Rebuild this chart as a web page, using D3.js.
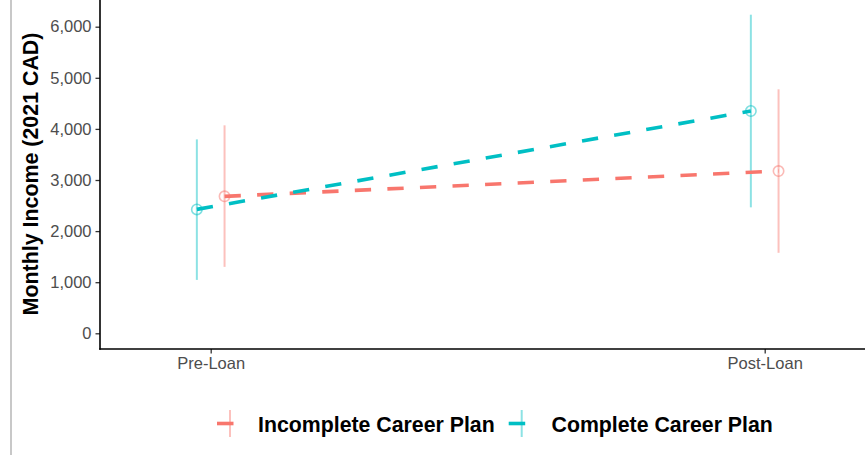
<!DOCTYPE html>
<html>
<head>
<meta charset="utf-8">
<script src="https://cdn.jsdelivr.net/npm/d3@7"></script>
<style>
html,body{margin:0;padding:0;background:#fff;}
svg{display:block;font-family:"Liberation Sans",Arial,sans-serif;}
</style>
</head>
<body>
<svg id="chart" width="865" height="455"></svg>
<script>
// ---- data ----
const periods = ["Pre-Loan", "Post-Loan"];
const groups = ["Incomplete Career Plan", "Complete Career Plan"];
const incompleteMean = [2680, 3175];
const incompleteLow  = [1300, 1575];
const incompleteHigh = [4070, 4775];
const completeMean = [2425, 4350];
const completeLow  = [1045, 2465];
const completeHigh = [3795, 6235];
const yTicks = [0, 1000, 2000, 3000, 4000, 5000, 6000];
const yTitle = "Monthly Income (2021 CAD)";

// ---- layout ----
const colors = {"Incomplete Career Plan": "#F8766D", "Complete Career Plan": "#00BFC4"};
const dodgeFrac = {"Incomplete Career Plan": 0.025, "Complete Career Plan": -0.025};
const svg = d3.select("#chart");
const axisX = 100, axisY = 349;

const x = d3.scalePoint().domain(periods).range([210.7, 764.7]);
const y = d3.scaleLinear().domain([0, 6000]).range([333.3, 26.7]);

const series = [
  {name: groups[0], mean: incompleteMean, low: incompleteLow, high: incompleteHigh},
  {name: groups[1], mean: completeMean, low: completeLow, high: completeHigh}
];
const px = (s, i) => x(periods[i]) + dodgeFrac[s.name] * (x.range()[1] - x.range()[0]);

// page border line
svg.append("line").attr("x1", 11).attr("x2", 11).attr("y1", 0).attr("y2", 455)
  .attr("stroke", "#c8c8c8").attr("stroke-width", 2);

// error bars
series.forEach(s => {
  svg.append("g").selectAll("line").data(periods).join("line")
    .attr("x1", (d, i) => px(s, i)).attr("x2", (d, i) => px(s, i))
    .attr("y1", (d, i) => y(s.low[i])).attr("y2", (d, i) => y(s.high[i]))
    .attr("stroke", colors[s.name]).attr("stroke-opacity", 0.45).attr("stroke-width", 2);
});
// points
series.forEach(s => {
  svg.append("g").selectAll("circle").data(periods).join("circle")
    .attr("cx", (d, i) => px(s, i)).attr("cy", (d, i) => y(s.mean[i]))
    .attr("r", 5.2).attr("fill", "none")
    .attr("stroke", colors[s.name]).attr("stroke-opacity", 0.5).attr("stroke-width", 1.6);
});
// dashed lines
series.forEach(s => {
  const line = d3.line().x((d, i) => px(s, i)).y((d, i) => y(s.mean[i]));
  svg.append("path").datum(periods).attr("d", line)
    .attr("fill", "none").attr("stroke", colors[s.name])
    .attr("stroke-width", 3.6).attr("stroke-dasharray", "16.3,16.3");
});

// axes
const yAxis = d3.axisLeft(y).tickValues(yTicks).tickFormat(d3.format(",")).tickSize(4.5).tickPadding(4);
const gy = svg.append("g").attr("transform", `translate(${axisX},0)`).call(yAxis);
gy.select(".domain").remove();
gy.selectAll(".tick line").attr("stroke", "#333").attr("stroke-width", 1.3);
gy.selectAll(".tick text").attr("fill", "#4D4D4D").style("font-size", "16.5px")
  .style("font-family", "'Liberation Sans',Arial,sans-serif");

const xAxis = d3.axisBottom(x).tickSize(4.5).tickPadding(4);
const gx = svg.append("g").attr("transform", `translate(0,${axisY})`).call(xAxis);
gx.select(".domain").remove();
gx.selectAll(".tick line").attr("stroke", "#333").attr("stroke-width", 1.3);
gx.selectAll(".tick text").attr("fill", "#4D4D4D").style("font-size", "16.5px")
  .style("font-family", "'Liberation Sans',Arial,sans-serif");

svg.append("line").attr("x1", axisX).attr("x2", axisX).attr("y1", 0).attr("y2", axisY + 0.75)
  .attr("stroke", "#000").attr("stroke-width", 1.6);
svg.append("line").attr("x1", axisX - 0.75).attr("x2", 865).attr("y1", axisY).attr("y2", axisY)
  .attr("stroke", "#000").attr("stroke-width", 1.6);

// y title
svg.append("text").attr("transform", `translate(38,174) rotate(-90)`)
  .attr("text-anchor", "middle").attr("font-weight", "bold").style("font-size", "21.4px")
  .attr("fill", "#000").text(yTitle);

// legend
const legendItems = [
  {name: groups[0], keyX: 230, textX: 258},
  {name: groups[1], keyX: 521.7, textX: 551.5}
];
const lg = svg.append("g");
legendItems.forEach(it => {
  const c = colors[it.name];
  lg.append("line").attr("x1", it.keyX).attr("x2", it.keyX).attr("y1", 410).attr("y2", 437)
    .attr("stroke", c).attr("stroke-opacity", 0.45).attr("stroke-width", 2);
  lg.append("line").attr("x1", it.keyX - 13).attr("x2", it.keyX + 3.5).attr("y1", 423.5).attr("y2", 423.5)
    .attr("stroke", c).attr("stroke-width", 3.6);
  lg.append("text").attr("x", it.textX).attr("y", 431.8).attr("font-weight", "bold")
    .style("font-size", "21.3px").attr("fill", "#000").text(it.name);
});
</script>
</body>
</html>
